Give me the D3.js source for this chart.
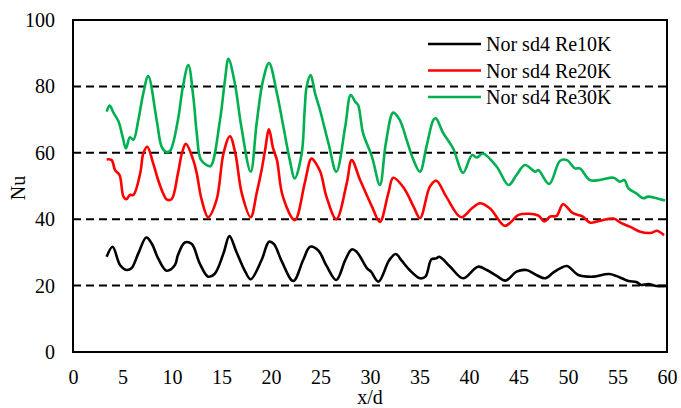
<!DOCTYPE html>
<html>
<head>
<meta charset="utf-8">
<script src="https://cdn.jsdelivr.net/npm/d3@7"></script>
<style>
html,body{margin:0;padding:0;background:#fff;}
svg{display:block;}
text{font-family:"Liberation Serif","Times New Roman",serif;fill:#000;}
</style>
</head>
<body>
<svg id="chart" width="681" height="408"></svg>
<script>
const seriesNames = ["Nor sd4 Re10K", "Nor sd4 Re20K", "Nor sd4 Re30K"];
const seriesColors = ["#000000", "#ff0000", "#00b050"];
const xTicks = [0,5,10,15,20,25,30,35,40,45,50,55,60];
const yTicks = [0,20,40,60,80,100];
const gridValues = [20,40,60,80];

const re10k = [[3.4,28.7],[4.0,31.7],[4.75,26.2],[5.4,24.7],[5.9,25.2],[6.6,29.7],[7.4,34.5],[7.95,32.7],[8.6,28.2],[9.45,24.5],[10.3,26.2],[10.6,29.2],[11.3,33],[12.0,32.5],[12.8,26.7],[13.65,22.7],[14.3,23.5],[15.2,29.7],[15.8,34.9],[16.5,30.2],[17.4,24.2],[17.95,21.9],[19.05,27.7],[19.8,33.2],[20.3,32.5],[21.1,27.2],[22.25,21.4],[23.25,27.7],[23.95,31.7],[24.8,30.5],[25.6,26],[26.6,21.7],[27.5,27.7],[28.15,30.9],[28.65,30.2],[29.7,25.2],[30.1,24.2],[30.85,21.2],[31.95,27.7],[32.6,29.5],[33.2,27.5],[34.0,24.7],[35.05,22.2],[35.6,22.7],[36.2,27.9],[36.7,28.2],[37.0,28.7],[38.1,25.7],[39.4,22.2],[40.9,25.7],[41.8,24.7],[42.8,22.9],[43.7,21.5],[44.8,24.2],[45.8,24.7],[46.8,23.2],[47.7,22.2],[48.5,23.9],[49.2,25.2],[49.9,25.9],[51.05,23.2],[52.6,22.7],[54.2,23.5],[56.1,21.4],[56.9,21.1],[57.4,20.2],[58.1,20.5],[58.95,19.9],[59.95,19.9]];

const re20k = [[3.4,58],[3.9,57.8],[4.25,54.8],[4.7,53.3],[5.1,46.8],[5.4,46],[5.75,47.3],[6.1,47.3],[6.8,54],[7.1,59.8],[7.5,61.8],[8.1,56.8],[8.6,51.8],[9.1,47.8],[9.45,46],[9.95,46],[10.6,53.8],[11.0,59.8],[11.4,62.7],[12.15,57.8],[12.5,53.8],[13.0,45.8],[13.65,40.6],[14.5,45.8],[15.2,59.8],[15.85,65],[16.4,59.8],[17.05,47.8],[17.95,40.6],[18.55,47.8],[19.05,54.8],[19.4,60.8],[19.8,67.1],[20.2,61.5],[20.6,57.8],[21.2,46.8],[22.4,39.7],[23.4,50.8],[23.95,57.8],[24.1,58.3],[24.95,54.5],[25.6,46.8],[26.6,40],[27.65,50.8],[28.15,57.8],[29.0,51.8],[30.2,43.8],[31.0,39.2],[31.85,47.8],[32.35,52.5],[33.4,49.5],[34.4,43.8],[35.05,40.3],[36.05,49.8],[36.7,51.6],[37.7,46.8],[39.2,40.6],[40.3,43.3],[41.1,44.8],[42.1,43.3],[43.6,38],[44.3,39.3],[45.0,41.3],[47,41.1],[47.6,39.3],[48.2,40.8],[48.85,41],[49.5,44.5],[50.5,41.8],[51.5,40.8],[52.2,39],[53.2,39.5],[54.6,40.2],[55.4,38.8],[56.3,37.7],[57.3,36.2],[58.45,35.9],[58.95,36.5],[59.7,35.2]];

const re30k = [[3.4,72.4],[3.7,74.2],[4.1,72],[4.6,69.4],[5.0,65],[5.35,61.3],[5.75,64.7],[6.1,63.9],[6.6,69.9],[7.1,77.9],[7.6,83.1],[8.45,69.9],[8.96,61.8],[9.4,60.3],[9.8,60.6],[10.6,69.9],[11.1,79.9],[11.65,86.4],[12.15,76.9],[12.5,65.9],[12.9,58],[13.5,56.3],[13.9,56],[14.85,69.9],[15.35,81.9],[15.7,88.3],[16.35,80.9],[17.0,67.9],[17.95,54.3],[18.55,68.9],[19.2,81.9],[19.8,87],[20.6,77.9],[21.25,67.9],[21.9,57.8],[22.4,52.3],[23.1,59.8],[23.4,72.9],[23.6,79.9],[24.0,83.4],[24.45,77.9],[24.95,72.9],[25.8,62.9],[26.6,54.3],[27.5,67.9],[28.05,77.4],[28.5,75.4],[28.8,74.4],[29.3,65.9],[30.2,58.8],[31.0,50.3],[31.6,62.9],[32.35,72.1],[33.0,69.9],[33.7,63.9],[34.4,57.8],[35.05,54.3],[35.7,61.8],[36.4,69.9],[36.65,70.4],[37.4,65.9],[38.4,61.3],[39.4,54],[40.3,59.3],[40.8,58.6],[41.4,59.8],[42.8,55.8],[44.0,50.3],[44.8,53.3],[45.65,56.3],[46.7,54.3],[47.0,54.8],[48.1,50.6],[49.2,57.6],[49.9,57.8],[50.7,55.3],[51.2,55.3],[52.2,51.8],[53.2,51.8],[54.6,52.5],[55.25,51.3],[55.7,51.8],[56.1,49.3],[56.9,47.8],[57.6,46.3],[58.1,46.8],[58.95,46.3],[59.8,45.6]];

const allSeries = [re10k, re20k, re30k];

const svg = d3.select("#chart");
const L = 73, R = 667, T = 20, B = 352;
const x = d3.scaleLinear().domain([0,60]).range([L,R]);
const y = d3.scaleLinear().domain([0,100]).range([B,T]);

// gridlines
svg.append("g").selectAll("line").data(gridValues).join("line")
  .attr("x1", L).attr("x2", R)
  .attr("y1", d => y(d)).attr("y2", d => y(d))
  .attr("stroke", "#000").attr("stroke-width", 2)
  .attr("stroke-dasharray", "8,5");

// axes with labels only
const xAxis = d3.axisBottom(x).tickValues(xTicks).tickSize(0).tickPadding(18);
const gx = svg.append("g").attr("transform", `translate(0,${B})`).call(xAxis);
gx.select(".domain").remove();
gx.selectAll("text").attr("font-size", 20).style("font-family", "Liberation Serif, serif");

const yAxis = d3.axisLeft(y).tickValues(yTicks).tickSize(0).tickPadding(18);
const gy = svg.append("g").attr("transform", `translate(${L},0)`).call(yAxis);
gy.select(".domain").remove();
gy.selectAll("text").attr("font-size", 20).style("font-family", "Liberation Serif, serif");

// lines
const line = d3.line().x(d => x(d[0])).y(d => y(d[1])).curve(d3.curveCatmullRom.alpha(0.5));
svg.append("g").selectAll("path").data(allSeries).join("path")
  .attr("d", line)
  .attr("fill", "none")
  .attr("stroke", (d,i) => seriesColors[i])
  .attr("stroke-width", 2.6)
  .attr("stroke-linejoin", "round");

// frame
svg.append("rect").attr("x", L).attr("y", T).attr("width", R-L).attr("height", B-T)
  .attr("fill", "none").attr("stroke", "#000").attr("stroke-width", 2);

// axis titles
svg.append("text").attr("x", (L+R)/2).attr("y", 404).attr("text-anchor", "middle")
  .attr("font-size", 20).text("x/d");
svg.append("text").attr("transform", "translate(25,188) rotate(-90)")
  .attr("text-anchor", "middle").attr("font-size", 20).text("Nu");

// legend
const legendRows = [44, 70.5, 97];
const lg = svg.append("g").selectAll("g").data(seriesNames).join("g")
  .attr("transform", (d,i) => `translate(0,${legendRows[i]})`);
lg.append("line").attr("x1", 428).attr("x2", 481).attr("y1", 0).attr("y2", 0)
  .attr("stroke", (d,i) => seriesColors[i]).attr("stroke-width", 2.6);
lg.append("text").attr("x", 486).attr("y", 7).attr("font-size", 20).text(d => d);
</script>
</body>
</html>
